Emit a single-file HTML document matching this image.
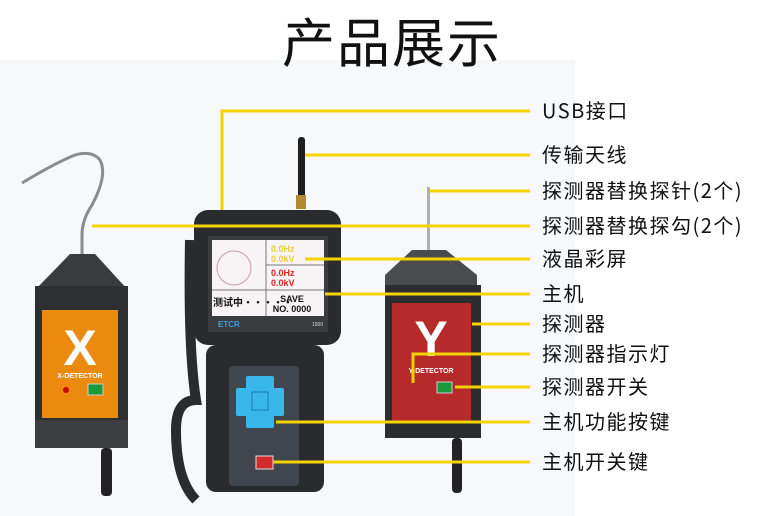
<!DOCTYPE html>
<html><head><meta charset="utf-8"><style>
body{margin:0;width:760px;height:516px;background:#fff;overflow:hidden;font-family:"Liberation Sans","Noto Sans CJK SC",sans-serif}
svg{position:absolute;left:0;top:0}
.l{position:absolute;left:542px;font-size:20px;letter-spacing:1.5px;color:#111;line-height:22px;white-space:nowrap;font-family:"Noto Sans CJK SC",sans-serif}
</style></head><body>
<svg width="760" height="516" viewBox="0 0 760 516">
<rect x="0" y="60" width="575" height="456" fill="#f7f8fa"/>
<text x="392" y="62" font-size="53" letter-spacing="2" text-anchor="middle" fill="#111" font-family="Noto Sans CJK SC,sans-serif">产品展示</text>
<!-- X detector -->
<path d="M82 254 L82 235 Q82 220 92 205 Q108 175 100 160 Q92 150 75 155 Q55 163 22 183" fill="none" stroke="#8c8c8c" stroke-width="3"/>
<polygon points="35,290 70,254 95,254 128,290" fill="#3a3b3d"/>
<rect x="35" y="286" width="93" height="134" fill="#2e2f31"/>
<rect x="42" y="310" width="76" height="108" fill="#ec8a0f"/>
<text x="80" y="365" font-size="50" font-weight="bold" fill="#fff" text-anchor="middle">X</text>
<text x="80" y="378" font-size="7" font-weight="bold" fill="#fff" text-anchor="middle">X-DETECTOR</text>
<circle cx="66" cy="390" r="3" fill="#c00"/>
<rect x="88" y="384" width="15" height="11" fill="#1a9a3c" stroke="#ccc"/>
<rect x="35" y="420" width="93" height="28" fill="#3c3d40"/>
<rect x="101" y="448" width="11" height="48" rx="4" fill="#232325"/>
<!-- Y detector -->
<rect x="427" y="187" width="3" height="64" fill="#b0b0b0"/>
<polygon points="385,275 412,250 446,250 477,275 477,290 385,290" fill="#4a4b4d"/>
<rect x="385" y="285" width="96" height="153" fill="#2b2c2e"/>
<rect x="392" y="303" width="79" height="120" fill="#b62a2c"/>
<text x="431" y="356" font-size="50" font-weight="bold" fill="#fff" text-anchor="middle">Y</text>
<text x="431" y="373" font-size="7" font-weight="bold" fill="#fff" text-anchor="middle">Y-DETECTOR</text>
<rect x="437" y="382" width="15" height="11" fill="#1a9a3c" stroke="#ccc"/>
<rect x="452" y="438" width="10" height="55" rx="4" fill="#232325"/>
<!-- main unit -->
<rect x="298" y="137" width="7" height="70" rx="3" fill="#1e1e1e"/>
<rect x="296" y="195" width="10" height="14" fill="#b08a30"/>
<path d="M190 240 Q188 350 196 400 Q176 400 176 430 Q176 480 196 500" fill="none" stroke="#2a2b2e" stroke-width="10"/>
<rect x="194" y="210" width="147" height="135" rx="14" fill="#2a2b2e"/>
<rect x="206" y="345" width="118" height="147" rx="10" fill="#2a2b2e"/>
<rect x="208" y="236" width="120" height="96" fill="#3a3b3e"/>
<rect x="212" y="240" width="112" height="76" fill="#f8f4f6"/>
<line x1="266" y1="240" x2="266" y2="316" stroke="#777"/>
<line x1="212" y1="290" x2="324" y2="290" stroke="#777"/>
<line x1="266" y1="265" x2="324" y2="265" stroke="#777"/>
<circle cx="234" cy="268" r="17" fill="none" stroke="#c9a" stroke-width="1"/>
<text x="271" y="252" font-size="9" fill="#e8d040" font-weight="bold">0.0Hz</text>
<text x="271" y="262" font-size="9" fill="#e8d040" font-weight="bold">0.0kV</text>
<text x="271" y="276" font-size="9" fill="#d22" font-weight="bold">0.0Hz</text>
<text x="271" y="286" font-size="9" fill="#d22" font-weight="bold">0.0kV</text>
<text x="213" y="306" font-size="10" font-weight="bold" fill="#111" font-family="Noto Sans CJK SC,sans-serif">测试中·····</text>
<text x="292" y="302" font-size="9" font-weight="bold" fill="#111" text-anchor="middle">SAVE</text>
<text x="292" y="312" font-size="9" font-weight="bold" fill="#111" text-anchor="middle">NO. 0000</text>
<text x="218" y="327" font-size="8" font-weight="bold" fill="#3aa0e0">ETCR</text>
<text x="312" y="326" font-size="5" fill="#ddd">1500</text>
<rect x="229" y="366" width="70" height="120" rx="4" fill="#40464e"/>
<path d="M248 378 h24 v12 h10 v24 h-10 v12 h-24 v-12 h-10 v-24 h10z" fill="#39b6ea" stroke="#39b6ea" stroke-linejoin="round" stroke-width="4"/>
<rect x="252" y="392" width="16" height="18" fill="#39b6ea" stroke="#1a7fb0"/>
<rect x="256" y="456" width="17" height="13" fill="#d22a2a" stroke="#ddd"/>
<g stroke="#f5d300" stroke-width="3" fill="none">
<path d="M222 210 V111 H530"/>
<path d="M305 155 H530"/>
<path d="M430 191 H530"/>
<path d="M92 226 H530"/>
<path d="M305 259 H530"/>
<path d="M325 294 H530"/>
<path d="M472 324 H530"/>
<path d="M413 383 V354 H530"/>
<path d="M455 387 H530"/>
<path d="M276 422 H530"/>
<path d="M273 462 H530"/>
</g>
</svg>
<div class="l" style="top:99px">USB接口</div>
<div class="l" style="top:143px">传输天线</div>
<div class="l" style="top:179px">探测器替换探针(2个)</div>
<div class="l" style="top:214px">探测器替换探勾(2个)</div>
<div class="l" style="top:247px">液晶彩屏</div>
<div class="l" style="top:282px">主机</div>
<div class="l" style="top:312px">探测器</div>
<div class="l" style="top:342px">探测器指示灯</div>
<div class="l" style="top:375px">探测器开关</div>
<div class="l" style="top:410px">主机功能按键</div>
<div class="l" style="top:450px">主机开关键</div>
</body></html>
